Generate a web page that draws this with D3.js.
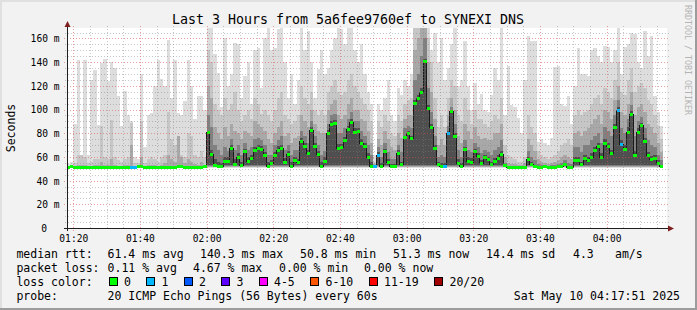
<!DOCTYPE html>
<html>
<head>
<meta charset="utf-8">
<script src="https://cdn.jsdelivr.net/npm/d3@7"></script>
<style>
body { margin: 0; background: #f2f2f2; }
svg { display: block; }
text { font-family: "DejaVu Sans Mono", monospace; }
</style>
</head>
<body>
<svg id="vimage" width="697" height="310"></svg>
<script>
//---------------------------------------- data (one entry per 1 minute step, 01:18 -> 04:17) ----------------------------------------
var median = [51.2,52.0,51.1,51.0,51.1,51.0,51.2,51.1,51.0,51.1, 51.2,51.1,51.0,51.1,51.2,51.0,51.1,51.1,51.0,51.0,
  50.8,52.1,52.0,51.2,51.1,51.0,51.1,51.2,51.0,51.1, 51.0,51.1,51.2,52.0,52.1,51.1,51.0,51.1,51.2,51.0, 51.1,51.8,
  80.7,62.4,52.6,51.7,51.7,56.5,56.0,66.7,54.0,59.4, 52.6,64.6,56.0,58.5,65.0,67.0,66.0,61.0,52.3,54.3,
  61.3,65.8,67.0,55.7,62.2,52.3,57.1,55.1,73.4,68.9, 63.0,82.4,68.9,61.9,52.3,56.5,79.9,87.0,87.8,67.5,
  68.1,74.0,83.3,89.2,81.0,81.6,71.7,69.2,59.9,52.3, 51.5,61.6,52.3,64.9,55.7,52.3,52.3,63.0,53.7,76.2,
  79.6,75.4,105.5,109.1,114.2,140.3,100.7,84.7,67.5,53.7, 51.5,52.3,79.6,98.4,77.6,54.3,51.8,66.1,56.5,55.7,
  64.4,60.2,54.3,59.4,57.9,53.2,56.0,59.0,62.2,53.0, 50.8,50.8,50.9,50.8,50.8,50.9,57.9,53.7,51.5,51.0,
  51.2,51.5,51.0,50.8,51.0,51.5,51.5,53.4,51.0,51.0, 57.1,57.1,53.7,58.8,57.1,59.9,65.0,68.6,59.9,71.2,
  68.6,62.7,84.6,99.4,70.2,66.3,81.0,95.9,61.5,81.0, 86.3,72.6,60.8,57.9,58.5,54.3,51.5];

// top of the lightest smoke (slowest ping)
var pingMax = [54,56,88,142,62,142,62,125,133,87, 139,143,124,140,135,111,86,116,95,90,
  60,58,130,68,95,97,120,142,126,120, 159,110,142,97,95,107,142,120,92,111, 111,100,
  169,169,147,131,102,160,120,130,156,155, 110,128,140,105,150,152,118,160,169,150,
  152,168,169,140,110,130,105,125,169,150, 166,140,110,134,150,130,135,150,160,169,
  168,155,169,169,150,140,155,130,115,105, 62,105,100,110,125,95,90,118,112,125,
  120,130,169,169,169,169,169,150,165,140, 160,125,135,155,169,120,125,158,120,100,
  122,105,113,100,98,112,135,125,169,95, 137,104,102,93,80,125,162,158,158,73,
  75,72,70,76,136,137,105,103,111,88, 120,152,130,130,128,150,152,145,140,154,
  153,140,150,169,130,153,155,165,164,140, 135,166,145,162,111,98,86];

var smoke2 = [52,53,55,62,62,60,55,56,58,58, 86,60,58,91,60,57,56,58,60,89,
  55,55,90,55,58,60,58,56,60,62, 98,75,70,65,62,60,80,78,62,60, 65,60,
  150,140,105,100,95,110,100,105,115,100, 90,95,100,92,110,105,96,100,95,90,
  100,110,115,95,92,88,90,95,120,110, 105,115,100,95,100,95,115,120,125,115,
  112,115,125,130,120,115,110,105,100,90, 56,90,85,95,90,80,78,95,90,105,
  108,110,169,169,169,169,160,140,110,85, 95,85,110,125,120,95,90,110,100,88,
  100,92,92,88,85,90,95,92,110,70, 62,60,58,56,56,60,95,85,80,65,
  62,60,58,60,62,65,70,72,75,70, 95,100,95,98,100,105,110,112,105,118,
  115,110,125,140,115,112,125,135,115,120, 122,118,108,105,95,86,75];

var smoke3 = [51,51,52,53,53,53,52,52,53,53, 56,53,53,58,53,52,52,53,53,70,
  52,52,60,52,53,53,53,52,53,55, 62,58,56,78,60,55,58,56,54,53, 56,53,
  120,110,85,80,75,85,78,88,82,80, 75,82,80,78,90,88,85,82,75,72,
  80,85,90,78,80,72,76,78,95,90, 85,100,88,82,80,80,100,105,108,95,
  92,95,105,110,100,100,92,90,82,72, 54,75,70,82,75,68,66,80,76,92,
  95,95,150,160,169,169,140,115,92,70, 75,70,95,110,100,78,72,88,82,75,
  85,78,75,76,74,74,80,80,88,60, 55,54,54,53,53,55,75,70,65,58,
  56,55,54,55,56,57,60,62,60,58, 80,82,78,82,84,88,92,95,88,100,
  98,92,108,120,98,95,105,115,95,102, 105,98,88,85,80,72,64];

var smoke4 = [51.6,52.2,51.7,51.8,51.6,51.7,51.8,51.6,51.7,51.8, 52.0,51.7,51.6,52.1,51.7,51.6,51.7,51.6,51.8,52.4,
  51.4,52.3,52.4,51.6,51.7,51.6,51.7,51.8,51.6,51.7, 52.0,51.8,51.7,52.4,52.3,51.7,51.8,51.7,51.6,51.6, 51.7,52.1,
  95,85,70,66,62,68,65,75,66,70, 62,72,66,68,75,76,74,70,62,62,
  70,74,78,66,70,62,66,66,82,78, 72,90,78,70,62,65,88,95,96,80,
  80,84,92,98,90,90,82,78,70,62, 53,68,60,72,64,58,58,70,64,84,
  86,84,125,130,145,160,118,98,78,60, 62,60,86,102,88,66,60,74,66,64,
  72,68,63,66,64,62,66,68,74,55, 52,52,52,52,52,52,65,60,57,54,
  53,53,52,53,53,54,55,57,55,54, 68,68,64,70,70,74,78,80,72,85,
  82,78,95,108,84,80,92,104,78,90, 94,84,74,70,68,62,57];

var smoke5 = [51.3,52.1,51.2,51.1,51.2,51.1,51.3,51.2,51.1,51.2, 51.3,51.2,51.1,51.2,51.3,51.1,51.2,51.2,51.1,51.1,
  50.9,52.2,52.1,51.3,51.2,51.1,51.2,51.3,51.1,51.2, 51.1,51.2,51.3,52.1,52.2,51.2,51.1,51.2,51.3,51.1, 51.2,51.9,
  82,66,58,56,55,60,60,70,58,63, 56,67,60,62,68,70,69,64,56,57,
  64,69,70,59,65,56,60,58,76,72, 66,85,72,65,56,60,83,90,91,71,
  71,77,86,92,84,84,75,72,63,56, 52.5,64,55,67,58,54,54,66,56,78,
  82,78,108,112,118,143,104,88,70,56, 55,55,82,100,80,58,55,68,60,59,
  67,63,57,62,60,56,59,62,65,54, 51,51,51,51,51,51,60,56,53,52,
  52,52,51.5,52,52,52,52,55,52,52, 60,60,56,62,60,63,68,72,63,75,
  72,66,88,102,74,70,85,99,65,84, 89,76,64,61,62,57,53];

// steps that lost pings
var lossSteps = [19,20,92,93,113,114,165,166];
var lossLost = [1,1,1,1,1,1,1,1];

var lossLabels = ["0","1","2","3","4-5","6-10","11-19","20/20"];
var lossColors = ["#00ff00","#00b8ff","#0059ff","#5e00ff","#ff00fe","#ff5500","#ff0000","#a10000"];
var smokeShades = ["#dddddd","#c6c6c6","#a8a8a8","#808080","#4f4f4f"];
var bandFloor = [50.8,51.2,51.8,52.5,53.2];

var yTickValues = [0,20,40,60,80,100,120,140,160];

var legendRtt = ["61.4 ms avg","140.3 ms max","50.8 ms min","51.3 ms now","14.4 ms sd","4.3","am/s"];
var legendLoss = ["0.11 % avg","4.67 % max","0.00 % min","0.00 % now"];

//---------------------------------------- setup ----------------------------------------
var svg = d3.select("#vimage");
var W = 697, H = 310;
var pLeft = 67, pRight = 667, pTop = 28, pBottom = 228;

var firstStep = new Date(2025, 4, 10, 1, 18, 0);
var x = d3.scaleTime()
  .domain([new Date(2025, 4, 10, 1, 18, 7), new Date(2025, 4, 10, 4, 18, 7)])
  .range([pLeft, pRight]);
var y = d3.scaleLinear().domain([0, 168.8]).range([pBottom, pTop]);

function lossBucket(n) {
  if (n <= 3) return n;
  if (n <= 5) return 4;
  if (n <= 10) return 5;
  if (n <= 19) return 6;
  return 7;
}

var steps = median.map(function(m, i) {
  var li = lossSteps.indexOf(i);
  return {
    i: i,
    t0: d3.timeMinute.offset(firstStep, i),
    t1: d3.timeMinute.offset(firstStep, i + 1),
    med: m,
    tops: [pingMax[i], smoke2[i], smoke3[i], smoke4[i], smoke5[i]],
    loss: li < 0 ? 0 : lossLost[li]
  };
});

// background + frame
svg.append("rect").attr("width", W).attr("height", H).attr("fill", "#f2f2f2");
svg.append("rect").attr("x", 0).attr("y", 0).attr("width", W).attr("height", 2).attr("fill", "#e0e0e0");
svg.append("rect").attr("x", 0).attr("y", 0).attr("width", 2).attr("height", H).attr("fill", "#e0e0e0");
svg.append("rect").attr("x", W - 2).attr("y", 0).attr("width", 2).attr("height", H).attr("fill", "#9c9c9c");
svg.append("rect").attr("x", 0).attr("y", H - 2).attr("width", W).attr("height", 2).attr("fill", "#9c9c9c");

svg.append("rect")
  .attr("x", pLeft).attr("y", pTop)
  .attr("width", pRight - pLeft).attr("height", pBottom - pTop)
  .attr("fill", "#ffffff");

svg.append("clipPath").attr("id", "plotclip")
  .append("rect").attr("x", pLeft).attr("y", pTop)
  .attr("width", pRight - pLeft).attr("height", pBottom - pTop);

var plot = svg.append("g").attr("clip-path", "url(#plotclip)");

//---------------------------------------- smoke ----------------------------------------
smokeShades.forEach(function(shade, b) {
  plot.append("g")
    .attr("shape-rendering", "crispEdges")
    .selectAll("rect")
    .data(steps.filter(function(d) { return d.tops[b] > bandFloor[b]; }))
    .enter().append("rect")
    .attr("x", function(d) { return x(d.t0); })
    .attr("width", function(d) { return x(d.t1) - x(d.t0); })
    .attr("y", function(d) { return y(d.tops[b]); })
    .attr("height", function(d) { return y(bandFloor[b]) - y(d.tops[b]); })
    .attr("fill", shade);
});

//---------------------------------------- median line + loss markers ----------------------------------------
var linePts = steps.map(function(d) { return [x(d.t0), y(d.med)]; });
linePts.push([x(steps[steps.length - 1].t1), y(steps[steps.length - 1].med)]);

plot.append("path")
  .attr("d", d3.line().curve(d3.curveStepAfter)(linePts))
  .attr("fill", "none")
  .attr("stroke", "#1a1a1a")
  .attr("stroke-width", 1)
  .attr("shape-rendering", "crispEdges");

plot.append("g")
  .attr("shape-rendering", "crispEdges")
  .selectAll("rect")
  .data(steps)
  .enter().append("rect")
  .attr("x", function(d) { return x(d.t0); })
  .attr("width", function(d) { return x(d.t1) - x(d.t0); })
  .attr("y", function(d) { return y(d.med) - 1.5; })
  .attr("height", 3)
  .attr("fill", function(d) { return lossColors[lossBucket(d.loss)]; });

//---------------------------------------- grid (on top, like rrdtool) ----------------------------------------
var grid = svg.append("g").attr("shape-rendering", "crispEdges");

var minorT = x.ticks(d3.timeMinute.every(5));
var majorT = x.ticks(d3.timeMinute.every(20));
var minorV = d3.range(5, 168.8, 5);

grid.selectAll(".vminor")
  .data(minorT.filter(function(t) { return t.getMinutes() % 20 != 0; }))
  .enter().append("line")
  .attr("x1", function(d) { return Math.round(x(d)) + 0.5; })
  .attr("x2", function(d) { return Math.round(x(d)) + 0.5; })
  .attr("y1", pTop - 2).attr("y2", pBottom + 2)
  .attr("stroke", "rgba(130,130,130,0.45)")
  .attr("stroke-dasharray", "1,2");

grid.selectAll(".hminor")
  .data(minorV.filter(function(v) { return v % 20 != 0; }))
  .enter().append("line")
  .attr("x1", pLeft - 2).attr("x2", pRight + 2)
  .attr("y1", function(d) { return Math.round(y(d)) + 0.5; })
  .attr("y2", function(d) { return Math.round(y(d)) + 0.5; })
  .attr("stroke", "rgba(130,130,130,0.45)")
  .attr("stroke-dasharray", "1,2");

grid.selectAll(".vmajor")
  .data(majorT)
  .enter().append("line")
  .attr("x1", function(d) { return Math.round(x(d)) + 0.5; })
  .attr("x2", function(d) { return Math.round(x(d)) + 0.5; })
  .attr("y1", pTop - 2).attr("y2", pBottom + 3)
  .attr("stroke", "rgba(222,80,80,0.55)")
  .attr("stroke-dasharray", "1,2");

grid.selectAll(".hmajor")
  .data(yTickValues.filter(function(v) { return v > 0; }))
  .enter().append("line")
  .attr("x1", pLeft - 3).attr("x2", pRight + 2)
  .attr("y1", function(d) { return Math.round(y(d)) + 0.5; })
  .attr("y2", function(d) { return Math.round(y(d)) + 0.5; })
  .attr("stroke", "rgba(222,80,80,0.55)")
  .attr("stroke-dasharray", "1,2");

//---------------------------------------- axes ----------------------------------------
svg.append("line")
  .attr("x1", pLeft - 3).attr("x2", pRight + 2)
  .attr("y1", pBottom + 0.5).attr("y2", pBottom + 0.5)
  .attr("stroke", "#1f1f1f");
svg.append("line")
  .attr("x1", pLeft + 0.5).attr("x2", pLeft + 0.5)
  .attr("y1", pBottom + 3).attr("y2", pTop - 2)
  .attr("stroke", "#1f1f1f");

svg.append("path")
  .attr("d", "M" + (pRight + 7) + "," + (pBottom + 0.5) + "L" + (pRight + 1) + "," + (pBottom - 2.5) + "L" + (pRight + 1) + "," + (pBottom + 3.5) + "Z")
  .attr("fill", "#7f1f1f");
svg.append("path")
  .attr("d", "M" + (pLeft + 0.5) + "," + (pTop - 7) + "L" + (pLeft - 2.5) + "," + (pTop - 1) + "L" + (pLeft + 3.5) + "," + (pTop - 1) + "Z")
  .attr("fill", "#7f1f1f");

var xAxis = svg.append("g")
  .attr("transform", "translate(0," + pBottom + ")")
  .call(d3.axisBottom(x).tickValues(majorT).tickSize(0).tickFormat(d3.timeFormat("%H:%M")));
xAxis.select(".domain").remove();
xAxis.selectAll("text")
  .attr("y", 13.5).attr("dy", null)
  .style("font-size", "9.6px")
  .style("font-family", "'DejaVu Sans Mono', monospace")
  .attr("fill", "#000");

var yAxis = svg.append("g")
  .attr("transform", "translate(" + pLeft + ",0)")
  .call(d3.axisLeft(y).tickValues(yTickValues).tickSize(0)
    .tickFormat(function(d) { return d == 0 ? "0" : d + " m"; }));
yAxis.select(".domain").remove();
yAxis.selectAll("text")
  .attr("x", function(d) { return d == 0 ? -20 : -7.5; })
  .attr("dy", "0.36em")
  .style("font-size", "9.6px")
  .style("font-family", "'DejaVu Sans Mono', monospace")
  .attr("fill", "#000");

//---------------------------------------- titles ----------------------------------------
svg.append("text")
  .attr("x", 348).attr("y", 23.5)
  .attr("text-anchor", "middle")
  .style("font-size", "13.3px")
  .attr("fill", "#000")
  .text("Last 3 Hours from 5a6fee9760ef to SYNEXI DNS");

svg.append("text")
  .attr("transform", "translate(15," + ((pTop + pBottom) / 2) + ") rotate(-90)")
  .attr("text-anchor", "middle")
  .style("font-size", "11.5px")
  .attr("fill", "#000")
  .text("Seconds");

svg.append("text")
  .attr("transform", "translate(685,5) rotate(90)")
  .attr("text-anchor", "start")
  .style("font-size", "8.3px")
  .attr("fill", "#b4b4b4")
  .text("RRDTOOL / TOBI OETIKER");

//---------------------------------------- legend ----------------------------------------
var legFont = "11.5px";
function legText(xp, yp, s, anchor) {
  svg.append("text")
    .attr("x", xp).attr("y", yp)
    .attr("text-anchor", anchor || "start")
    .style("font-size", legFont)
    .style("white-space", "pre")
    .attr("fill", "#000")
    .text(s);
}

var rttX = [107.6, 200, 300, 393, 486, 573, 615];
legText(16.4, 258, "median rtt:");
legendRtt.forEach(function(s, i) { legText(rttX[i], 258, s); });

var lossX = [107.6, 193, 279, 364];
legText(16.4, 272, "packet loss:");
legendLoss.forEach(function(s, i) { legText(lossX[i], 272, s); });

legText(16.4, 286, "loss color:");
var bx = 108.5;
lossLabels.forEach(function(s, i) {
  svg.append("rect")
    .attr("x", bx + 0.5).attr("y", 277.5)
    .attr("width", 8).attr("height", 8)
    .attr("fill", lossColors[i])
    .attr("stroke", "#000")
    .attr("stroke-width", 1)
    .attr("shape-rendering", "crispEdges");
  legText(bx + 15.5, 286, s);
  bx = bx + 30.5 + 7 * s.length;
});

legText(16.4, 299.5, "probe:");
legText(107.6, 299.5, "20 ICMP Echo Pings (56 Bytes) every 60s");
legText(680, 299.5, "Sat May 10 04:17:51 2025", "end");
</script>
</body>
</html>
